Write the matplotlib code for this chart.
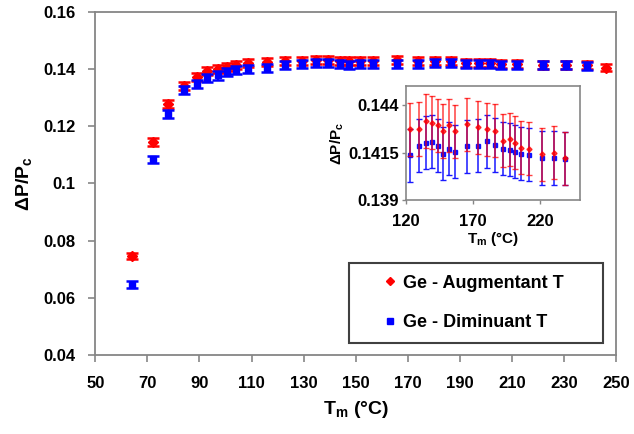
import matplotlib
matplotlib.use('Agg')
import matplotlib.pyplot as plt
from matplotlib.lines import Line2D
from matplotlib.patches import Rectangle
from matplotlib.ticker import FuncFormatter

plt.rcParams['font.family'] = ['Liberation Sans', 'DejaVu Sans']
plt.rcParams['font.weight'] = 'bold'
plt.rcParams['mathtext.fontset'] = 'custom'
plt.rcParams['mathtext.rm'] = 'Liberation Sans:bold'
plt.rcParams['mathtext.it'] = 'Liberation Sans:bold'
plt.rcParams['mathtext.bf'] = 'Liberation Sans:bold'

# ---- data ----
t_up = [64, 72, 78, 84, 89, 93, 97, 100.5, 104, 108.5, 116,
        123.0, 129.4, 134.8, 139.5, 143.9, 147.6, 151.8, 156.8, 165.9, 173.8,
        180.5, 186.8, 192.5, 197.4, 201.7, 205.9, 211.8, 221.9, 230.8, 238.8, 246]
dp_up = [0.0746, 0.1145, 0.1278, 0.1342, 0.1371, 0.1392, 0.1401, 0.1408, 0.1415, 0.1422, 0.1425,
         0.14272, 0.14274, 0.14316, 0.14306, 0.14294, 0.14263, 0.14294, 0.14262, 0.14299, 0.14283,
         0.14273, 0.14264, 0.14212, 0.14219, 0.14202, 0.14175, 0.14170, 0.14140, 0.14150, 0.14120, 0.1404]
err_up = [0.0012, 0.0013, 0.0014, 0.0014, 0.0014, 0.0014, 0.0014, 0.0014, 0.0014, 0.0014, 0.0014,
          0.0014, 0.0014, 0.0014, 0.0014, 0.0014, 0.0014, 0.0014, 0.0014, 0.0014, 0.0014,
          0.0014, 0.0014, 0.0014, 0.0014, 0.0014, 0.0014, 0.0014, 0.0014, 0.0014, 0.0014, 0.0012]

t_down = [64, 72, 78, 84, 89, 93, 97, 100.5, 104, 108.5, 116,
          123.0, 129.4, 134.8, 139.5, 143.9, 147.6, 151.8, 156.8, 165.9, 173.8,
          180.5, 186.8, 192.5, 197.4, 201.7, 205.9, 211.8, 221.9, 230.8, 238.8]
dp_down = [0.0645, 0.1084, 0.1244, 0.1326, 0.1349, 0.1368, 0.1377, 0.1390, 0.1396, 0.1399, 0.1402,
           0.14136, 0.14186, 0.14201, 0.14207, 0.14185, 0.14143, 0.14171, 0.14155, 0.14183, 0.14185,
           0.14209, 0.14190, 0.14169, 0.14164, 0.14155, 0.14143, 0.14138, 0.14121, 0.14121, 0.14117]
err_down = [0.0012, 0.0013, 0.0014, 0.0014, 0.0014, 0.0014, 0.0014, 0.0014, 0.0014, 0.0014, 0.0014,
            0.0014, 0.0014, 0.0014, 0.0014, 0.0014, 0.0014, 0.0014, 0.0014, 0.0014, 0.0014,
            0.0014, 0.0014, 0.0014, 0.0014, 0.0014, 0.0014, 0.0014, 0.0014, 0.0014, 0.0014]

x_ticks = [50, 70, 90, 110, 130, 150, 170, 190, 210, 230, 250]
y_ticks = [0.04, 0.06, 0.08, 0.1, 0.12, 0.14, 0.16]
inset_x_ticks = [120, 170, 220]
inset_y_ticks = [0.139, 0.1415, 0.144]
label_up = 'Ge - Augmentant T'
label_down = 'Ge - Diminuant T'
RED = '#ff0000'
BLUE = '#0000ff'
GRAY = '#868686'

W, H = 634, 434
fig = plt.figure(figsize=(W / 100, H / 100), dpi=100)

# ---- main axes ----
ax = fig.add_axes([95.3 / W, 1 - 355 / H, (616 - 95.3) / W, (355 - 11.7) / H])
ax.errorbar(t_up, dp_up, yerr=err_up, fmt='D', color=RED, ms=4.6, elinewidth=1.6,
            capsize=4.3, capthick=1.8, zorder=3)
ax.errorbar(t_down, dp_down, yerr=err_down, fmt='s', color=BLUE, ms=4.6, elinewidth=1.6,
            capsize=4.3, capthick=1.8, zorder=4)
ax.set_xlim(50, 250)
ax.set_ylim(0.04, 0.16)
ax.set_xticks(x_ticks)
ax.set_yticks(y_ticks)
ax.yaxis.set_major_formatter(FuncFormatter(lambda v, p: '%g' % round(v, 4)))
for s in ax.spines.values():
    s.set_color(GRAY)
    s.set_linewidth(1.3)
ax.tick_params(axis='both', direction='out', length=5, width=1.2, color=GRAY,
               labelsize=12)
ax.tick_params(axis='x', pad=10)
ax.tick_params(axis='y', pad=9)
for lab in ax.get_xticklabels() + ax.get_yticklabels():
    lab.set_fontweight('bold')
ax.set_xlabel('T$_\\mathrm{m}$ (°C)', fontsize=14, fontweight='bold', labelpad=6)
ax.set_ylabel('ΔP/P$_\\mathrm{c}$', fontsize=14, fontweight='bold', labelpad=7)

# ---- legend ----
h_up = Line2D([], [], marker='D', color=RED, ls='none', ms=4)
h_down = Line2D([], [], marker='s', color=BLUE, ls='none', ms=4)
ax.add_patch(Rectangle((349.3 / W, 1 - 342.7 / H), 254 / W, 79.4 / H,
                       transform=fig.transFigure, fill=True, facecolor='white',
                       edgecolor='#404040', lw=1.5, zorder=4.5, clip_on=False))
leg = ax.legend([h_up, h_down], [label_up, label_down], loc='center',
                bbox_to_anchor=(474 / W, 1 - 303 / H), bbox_transform=fig.transFigure,
                frameon=False, fontsize=13, handlelength=0.6, handletextpad=0.4,
                labelspacing=1.25, borderpad=0.3)
leg.set_zorder(6)
for txt in leg.get_texts():
    txt.set_fontweight('bold')

# ---- inset ----
ins = fig.add_axes([406 / W, 1 - 200 / H, 174 / W, 114 / H])
mask_b = [120 <= t <= 240 for t in t_down]
mask_r = [120 <= t <= 240 for t in t_up]
ins.errorbar([t for t, m in zip(t_down, mask_b) if m],
             [v for v, m in zip(dp_down, mask_b) if m],
             yerr=[e for e, m in zip(err_down, mask_b) if m],
             fmt='s', color=BLUE, ms=3.2, elinewidth=1.1, capsize=2.0, capthick=1.0,
             alpha=0.9, zorder=3)
ins.errorbar([t for t, m in zip(t_up, mask_r) if m],
             [v for v, m in zip(dp_up, mask_r) if m],
             yerr=[e for e, m in zip(err_up, mask_r) if m],
             fmt='D', color=RED, ms=2.6, elinewidth=1.1, capsize=2.0, capthick=1.0,
             alpha=0.75, zorder=4)
ins.set_xlim(120, 250)
ins.set_ylim(0.139, 0.145)
ins.set_xticks(inset_x_ticks)
ins.set_yticks(inset_y_ticks)
ins.yaxis.set_major_formatter(FuncFormatter(lambda v, p: '%g' % round(v, 5)))
for s in ins.spines.values():
    s.set_color(GRAY)
    s.set_linewidth(1.2)
ins.tick_params(axis='both', direction='out', length=3, width=1.0, color=GRAY,
                labelsize=12)
ins.tick_params(axis='x', pad=7)
ins.tick_params(axis='y', pad=2)
for lab in ins.get_xticklabels() + ins.get_yticklabels():
    lab.set_fontweight('bold')
ins.set_xlabel('T$_\\mathrm{m}$ (°C)', fontsize=11, fontweight='bold', labelpad=1)
ins.set_ylabel('ΔP/P$_\\mathrm{c}$', fontsize=11, fontweight='bold', labelpad=2)

fig.savefig('out.png', dpi=100)
